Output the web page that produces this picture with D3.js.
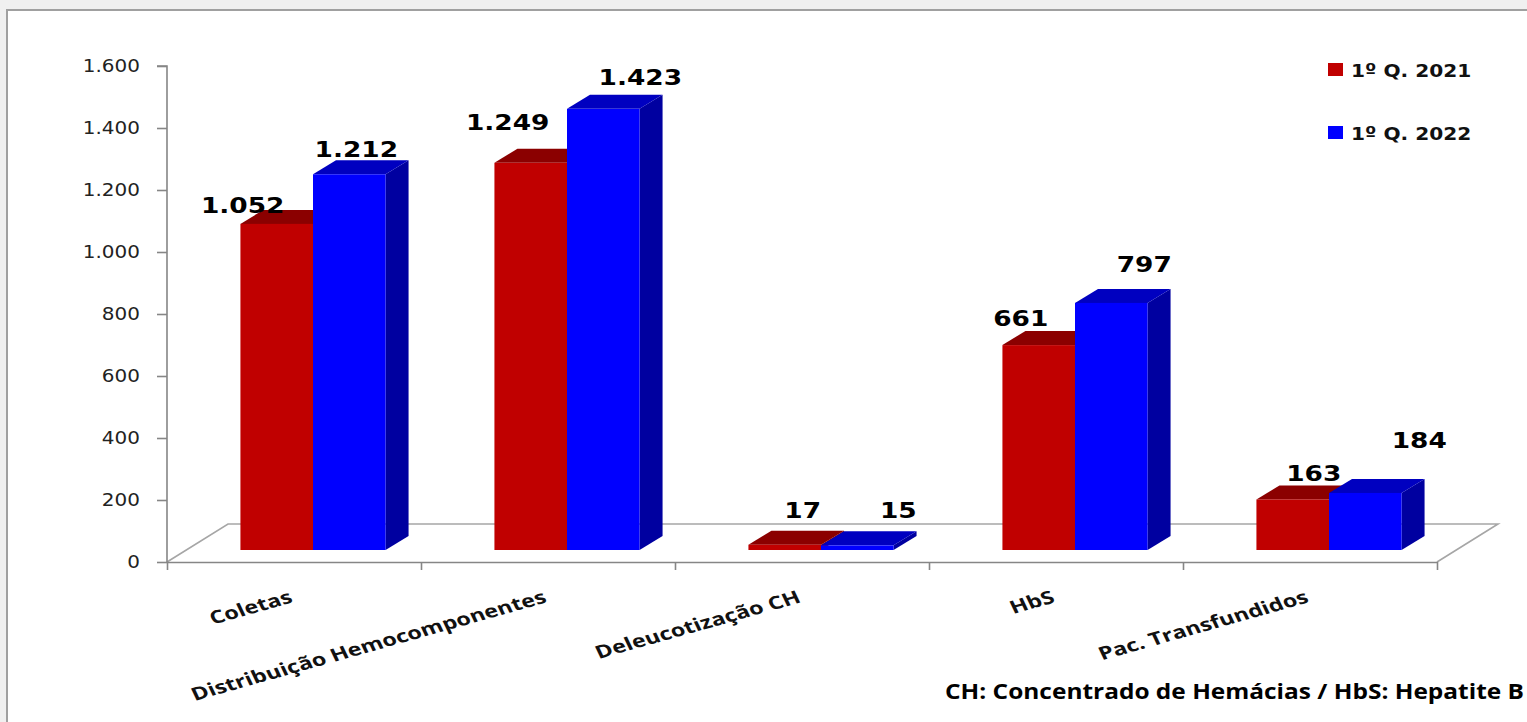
<!DOCTYPE html>
<html><head><meta charset="utf-8">
<script src="https://cdn.jsdelivr.net/npm/d3@7"></script>
<style>html,body{margin:0;padding:0;background:#f0f0f0;overflow:hidden}</style>
</head><body>
<svg id="c" width="1527" height="722"></svg>
<script>
// ---- data ----
const categories = ["Coletas","Distribuição Hemocomponentes","Deleucotização CH","HbS","Pac. Transfundidos"];
const series2021 = [1052,1249,17,661,163];
const series2022 = [1212,1423,15,797,184];
const seriesNames = ["1º Q. 2021","1º Q. 2022"];
const yTicks = [0,200,400,600,800,1000,1200,1400,1600];
const footnote = "CH: Concentrado de Hemácias / HbS: Hepatite B";

// ---- layout / style ----
const labelNudge = [
  [[-34,-11],[-23,-33],[18,-27],[-18,-19],[21,-18]],
  [[7,-17],[37,-24],[41,-27],[33,-31],[54,-45]]
];
const colors = [
  {front:"#C00000", top:"#8B0000", side:"#900000"},
  {front:"#0000FF", top:"#0000C0", side:"#0000A0"}
];
const STRETCH = 1.2;
const svg = d3.select("#c");

// frame
svg.append("rect").attr("x",0).attr("y",0).attr("width",1527).attr("height",722).attr("fill","#f0f0f0");
svg.append("rect").attr("x",7).attr("y",10).attr("width",1600).attr("height",800)
  .attr("fill","#fff").attr("stroke","#a0a0a0").attr("stroke-width",2);

const x0 = 167, x1 = 1437, yBase = 562, yTop = 66;
const floorD = [61,-38];
const frontOff = [19,-12];
const barD = [23,-14];

const y = d3.scaleLinear().domain([0,1600]).range([yBase,yTop]);
const x = d3.scaleBand().domain(categories).range([x0,x1]).paddingInner(0).paddingOuter(0);
const sub = d3.scaleBand().domain([0,1]).range([0,x.bandwidth()]).paddingInner(0).paddingOuter(0.75);
const xb = d3.scaleLinear().domain([0,categories.length]).range([x0,x1]);

const loc = d3.formatLocale({decimal:",",thousands:".",grouping:[3],currency:["",""]});
const fmt = loc.format(",d");

// floor
const floorG = svg.append("g").attr("stroke","#a6a6a6").attr("stroke-width",1.6).attr("fill","none");
floorG.append("path").attr("d",
  `M${x0},${yBase}L${x0+floorD[0]},${yBase+floorD[1]}L${x1+floorD[0]},${yBase+floorD[1]}L${x1},${yBase}`);

// y axis
const yAxis = svg.append("g").attr("transform",`translate(${x0},0)`)
  .call(d3.axisLeft(y).tickValues(yTicks).tickSize(10).tickPadding(17).tickFormat(fmt));
yAxis.selectAll("path,line").attr("stroke","#868686").attr("stroke-width",1.6);
yAxis.selectAll("text").each(function(){
  const t = d3.select(this); const tx = +t.attr("x");
  t.attr("x",0).attr("transform",`translate(${tx},0) scale(${STRETCH*0.98},1)`);
}).attr("font-family","DejaVu Sans").attr("font-size",17).attr("fill","#222");
yAxis.select(".domain").attr("d",`M-10,${y(1600)}H0V${y(0)}`);

// x axis (ticks at category boundaries)
const xAxis = svg.append("g").attr("transform",`translate(0,${yBase})`)
  .call(d3.axisBottom(xb).tickValues(d3.range(categories.length+1)).tickSize(8).tickSizeOuter(0).tickFormat(""));
xAxis.selectAll("path,line").attr("stroke","#868686").attr("stroke-width",1.6);

// bars
const barsG = svg.append("g");
const data = [series2021, series2022];
categories.forEach((c,ci)=>{
  data.forEach((s,si)=>{
    const v = s[ci];
    const bx = x(c) + frontOff[0] + sub(si);
    const w = sub.bandwidth();
    const yb = y(0) + frontOff[1];
    const yt = y(v) + frontOff[1];
    const g = barsG.append("g");
    g.append("polygon").attr("fill",colors[si].side)
      .attr("points",[[bx+w,yt],[bx+w+barD[0],yt+barD[1]],[bx+w+barD[0],yb+barD[1]],[bx+w,yb]].join(" "));
    g.append("polygon").attr("fill",colors[si].top)
      .attr("points",[[bx,yt],[bx+w,yt],[bx+w+barD[0],yt+barD[1]],[bx+barD[0],yt+barD[1]]].join(" "));
    g.append("rect").attr("fill",colors[si].front).attr("x",bx).attr("y",yt).attr("width",w).attr("height",yb-yt);
  });
});

// value labels
const labG = svg.append("g").attr("font-family","DejaVu Sans").attr("font-weight","bold")
  .attr("font-size",22).attr("fill","#000").attr("text-anchor","middle");
data.forEach((s,si)=>{
  s.forEach((v,ci)=>{
    const cx = x(categories[ci]) + frontOff[0] + sub(si) + sub.bandwidth()/2 + labelNudge[si][ci][0];
    const cy = y(v) + frontOff[1] + labelNudge[si][ci][1];
    labG.append("text").attr("transform",`translate(${cx},${cy}) scale(${STRETCH},1)`).text(fmt(v));
  });
});

// category labels
const catG = svg.append("g").attr("font-family","'Open Sans'").attr("font-weight","bold")
  .attr("font-size",18).attr("fill","#111").attr("text-anchor","end");
categories.forEach(c=>{
  const cx = x(c) + x.bandwidth()/2;
  catG.append("text").attr("transform",`translate(${cx},602) scale(1.3,1) rotate(-20)`).text(c);
});

// legend
const legG = svg.append("g");
seriesNames.forEach((n,i)=>{
  legG.append("rect").attr("x",1328).attr("y",63+i*63).attr("width",15).attr("height",13).attr("fill",colors[i].front);
  legG.append("text").attr("transform",`translate(1351,${77+i*63}) scale(1.12,1)`)
    .attr("font-family","DejaVu Sans").attr("font-weight","bold").attr("font-size",18).attr("fill","#111").text(n);
});

// footnote
svg.append("text").attr("x",945).attr("y",699).attr("font-family","'Open Sans'").attr("font-weight","bold")
  .attr("font-size",21).attr("fill","#000").attr("textLength",579).attr("lengthAdjust","spacingAndGlyphs").text(footnote);
</script>
</body></html>
